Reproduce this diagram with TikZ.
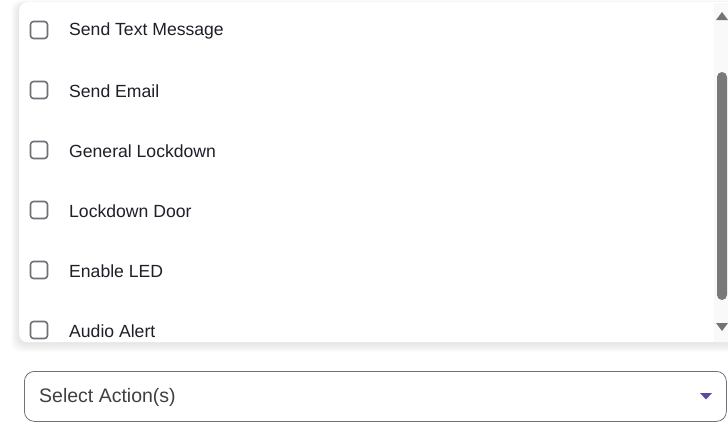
\documentclass[tikz,border=0pt]{standalone}
\usepackage{fontspec}
\setmainfont{Liberation Sans}
\definecolor{boxgray}{HTML}{707078}
\definecolor{txt}{HTML}{1F1F28}
\definecolor{purp}{HTML}{5B4A9E}
\begin{document}
\begin{tikzpicture}[x=1pt,y=-1pt,
  cbox/.style={draw=boxgray,line width=1.6pt,rounded corners=3pt,minimum width=17pt,minimum height=17pt,inner sep=0pt},
  item/.style={anchor=west,text=txt,font=\fontsize{17.6}{20}\selectfont,inner sep=0pt}]
\useasboundingbox (0,0) rectangle (728,434);
\fill[white] (0,0) rectangle (728,434);
\begin{scope}
\clip (0,0) rectangle (728,434);
\foreach \k in {1,...,8}{
  \fill[black,opacity=0.012,rounded corners=10pt] (19-\k,4-\k*0.5) rectangle (760,343+\k*1.2);
}
\node[fill=white,rounded corners=8pt,minimum width=730pt,minimum height=340pt,anchor=north west,inner sep=0pt] (panel) at (19,2) {};
\begin{scope}
\clip[rounded corners=8pt] (19,2) rectangle (760,342);
\foreach \y/\t [count=\i] in {30/Send Text Message,90/Send Email,150/General Lockdown,210/Lockdown Door,270/Enable LED,330/Audio Alert}{
  \node[cbox] (c\i) at (39,\y) {};
  \node[item] (t\i) at (69,\y+1) {\t};
}
\end{scope}
\fill[gray!5] (714,3) rectangle (728,342);
\node[fill=gray!95!black,rounded corners=5pt,minimum width=10pt,minimum height=228pt,inner sep=0pt] (thumb) at (722,186) {};
\fill[gray!90!black] (716,20) -- (728,20) -- (722,12) -- cycle;
\fill[gray!90!black] (716,323) -- (728,323) -- (722,331) -- cycle;
\end{scope}
\node[draw=boxgray,line width=0.8pt,rounded corners=10pt,minimum width=702pt,minimum height=50pt,anchor=north west,inner sep=0pt] (select) at (24,371) {};
\node[anchor=west,text=black!75,font=\fontsize{19.5}{21}\selectfont,inner sep=0pt] (selt) at (39,397) {Select Action(s)};
\fill[purp] (700,393) -- (712,393) -- (706,399.5) -- cycle;
\end{tikzpicture}
\end{document}
